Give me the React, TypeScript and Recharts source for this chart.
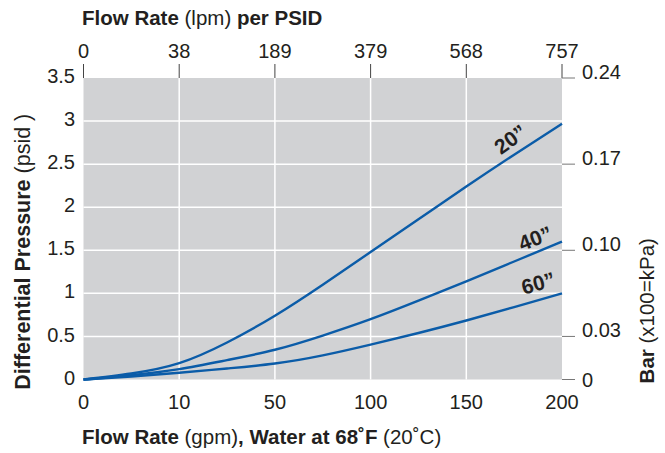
import React from "react";
import {
  LineChart,
  Line,
  XAxis,
  YAxis,
  CartesianGrid,
  ReferenceDot,
} from "recharts";

// x positions are tick-slot indices (the gpm scale in the source is not linear)
const positions = [0, 0.5, 1, 1.5, 2, 2.5, 3, 3.5, 4, 4.5, 5];
const series20 = [0, 0.07, 0.19, 0.43, 0.74, 1.1, 1.48, 1.86, 2.24, 2.61, 2.97];
const series40 = [0, 0.05, 0.12, 0.225, 0.345, 0.51, 0.7, 0.915, 1.14, 1.37, 1.6];
const series60 = [0, 0.035, 0.078, 0.128, 0.185, 0.28, 0.405, 0.54, 0.685, 0.84, 1.0];

const gpmTicks = [0, 1, 2, 3, 4, 5];
const gpmLabels = ["0", "10", "50", "100", "150", "200"];
const lpmLabels = ["0", "38", "189", "379", "568", "757"];
const psidTicks = [0, 0.5, 1, 1.5, 2, 2.5, 3, 3.5];
const psidLabels = ["0", "0.5", "1", "1.5", "2", "2.5", "3", "3.5"];
const barTicks = [0, 0.5, 1.5, 2.5, 3.5];
const barLabels = ["0", "0.03", "0.10", "0.17", "0.24"];
const gridX = [1, 2, 3, 4];
const gridY = [0.5, 1, 1.5, 2, 2.5, 3];

const curveLabels = [
  { text: "20\u201D", x: 4.46, y: 2.79, angle: -36 },
  { text: "40\u201D", x: 4.72, y: 1.64, angle: -21 },
  { text: "60\u201D", x: 4.75, y: 1.12, angle: -15 },
];

const data = positions.map((p, i) => ({
  pos: p,
  s20: series20[i],
  s40: series40[i],
  s60: series60[i],
}));

const FONT = "'Liberation Sans', Arial, Helvetica, sans-serif";
const TXT = "#231f20";
const BLUE = "#0b5ca8";
const FS = 20;
const TFS = 20.5;

const LeftTick = (props: any) => {
  const { x, y, payload } = props;
  const idx = psidTicks.indexOf(payload.value);
  return (
    <text
      x={x}
      y={y - 2}
      dy="0.355em"
      textAnchor="end"
      fontSize={FS}
      fontFamily={FONT}
      fill={TXT}
    >
      {psidLabels[idx]}
    </text>
  );
};

const RightTick = (props: any) => {
  const { x, y, payload } = props;
  const idx = barTicks.indexOf(payload.value);
  return (
    <text
      x={x}
      y={y}
      dy={payload.value === 0 ? "0.355em" : "0.05em"}
      textAnchor="start"
      fontSize={FS}
      fontFamily={FONT}
      fill={TXT}
    >
      {barLabels[idx]}
    </text>
  );
};

const TopTitle = (props: any) => {
  const vb = props.viewBox;
  return (
    <text
      x={vb.x - 1.5}
      y={vb.y - 3}
      fontSize={TFS}
      fontFamily={FONT}
      fill={TXT}
      textAnchor="start"
    >
      <tspan fontWeight="bold">Flow Rate</tspan>
      <tspan> (lpm) </tspan>
      <tspan fontWeight="bold">per PSID</tspan>
    </text>
  );
};

const BottomTitle = (props: any) => {
  const vb = props.viewBox;
  return (
    <text
      x={vb.x - 1.5}
      y={vb.y + 64.5}
      fontSize={TFS}
      fontFamily={FONT}
      fill={TXT}
      textAnchor="start"
    >
      <tspan fontWeight="bold">Flow Rate</tspan>
      <tspan> (gpm)</tspan>
      <tspan fontWeight="bold">, Water at 68˚F</tspan>
      <tspan> (20˚C)</tspan>
    </text>
  );
};

const LeftTitle = (props: any) => {
  const vb = props.viewBox;
  const cx = vb.x - 3.5;
  const cy = vb.y + vb.height / 2 + 23;
  return (
    <text
      x={cx}
      y={cy}
      transform={`rotate(-90, ${cx}, ${cy})`}
      fontSize={21.5}
      fontFamily={FONT}
      fill={TXT}
      textAnchor="middle"
    >
      <tspan fontWeight="bold">Differential Pressure</tspan>
      <tspan> (psid )</tspan>
    </text>
  );
};

const RightTitle = (props: any) => {
  const vb = props.viewBox;
  const cx = vb.x + 92;
  const cy = vb.y + vb.height / 2 + 82;
  return (
    <text
      x={cx}
      y={cy}
      transform={`rotate(-90, ${cx}, ${cy})`}
      fontSize={TFS}
      fontFamily={FONT}
      fill={TXT}
      textAnchor="middle"
    >
      <tspan fontWeight="bold">Bar</tspan>
      <tspan> (x100=kPa)</tspan>
    </text>
  );
};

const makeLabelShape = (text: string, angle: number) => (props: any) => {
  const { cx, cy } = props;
  return (
    <text
      x={cx}
      y={cy}
      transform={`rotate(${angle}, ${cx}, ${cy})`}
      textAnchor="middle"
      dominantBaseline="central"
      fontSize={21}
      fontWeight="bold"
      fontFamily={FONT}
      fill={TXT}
    >
      {text}
    </text>
  );
};

export default function App() {
  return (
    <div style={{ position: "absolute", left: 0, top: 0, width: 665, height: 453, background: "#fff" }}>
      <LineChart
        width={665}
        height={453}
        data={data}
        margin={{ top: 28, right: 43, bottom: 23.5, left: 33.5 }}
      >
        <CartesianGrid
          fill="#d1d2d4"
          stroke="#ffffff"
          strokeWidth={1.5}
          horizontalValues={gridY}
          verticalValues={gridX}
        />
        <XAxis
          dataKey="pos"
          type="number"
          domain={[0, 5]}
          ticks={gpmTicks}
          tickFormatter={(v: number) => gpmLabels[gpmTicks.indexOf(v)]}
          orientation="bottom"
          height={50}
          axisLine={false}
          tickLine={false}
          tickSize={6}
          tickMargin={9}
          interval={0}
          tick={{ fontSize: FS, fontFamily: FONT, fill: TXT }}
          label={<BottomTitle />}
        />
        <XAxis
          xAxisId="top"
          dataKey="pos"
          type="number"
          domain={[0, 5]}
          ticks={gpmTicks}
          tickFormatter={(v: number) => lpmLabels[gpmTicks.indexOf(v)]}
          orientation="top"
          height={50}
          axisLine={false}
          tickLine={{ stroke: "#444", strokeWidth: 1 }}
          tickSize={14}
          tickMargin={6}
          interval={0}
          tick={{ fontSize: FS, fontFamily: FONT, fill: TXT }}
          label={<TopTitle />}
        />
        <YAxis
          type="number"
          domain={[0, 3.5]}
          ticks={psidTicks}
          width={50}
          axisLine={false}
          tickLine={false}
          tickSize={6}
          tickMargin={2.5}
          interval={0}
          tick={<LeftTick />}
          label={<LeftTitle />}
        />
        <YAxis
          yAxisId="right"
          orientation="right"
          dataKey="s20"
          type="number"
          domain={[0, 3.5]}
          ticks={barTicks}
          width={60}
          axisLine={false}
          tickLine={{ stroke: "#777", strokeWidth: 1 }}
          tickSize={13}
          tickMargin={7}
          interval={0}
          tick={<RightTick />}
          label={<RightTitle />}
        />
        <Line
          type="natural"
          dataKey="s20"
          stroke={BLUE}
          strokeWidth={2.4}
          dot={false}
          activeDot={false}
          isAnimationActive={false}
        />
        <Line
          type="natural"
          dataKey="s40"
          stroke={BLUE}
          strokeWidth={2.4}
          dot={false}
          activeDot={false}
          isAnimationActive={false}
        />
        <Line
          type="natural"
          dataKey="s60"
          stroke={BLUE}
          strokeWidth={2.4}
          dot={false}
          activeDot={false}
          isAnimationActive={false}
        />
        {curveLabels.map((l) => (
          <ReferenceDot
            key={l.text}
            x={l.x}
            y={l.y}
            r={0}
            shape={makeLabelShape(l.text, l.angle)}
          />
        ))}
      </LineChart>
    </div>
  );
}
